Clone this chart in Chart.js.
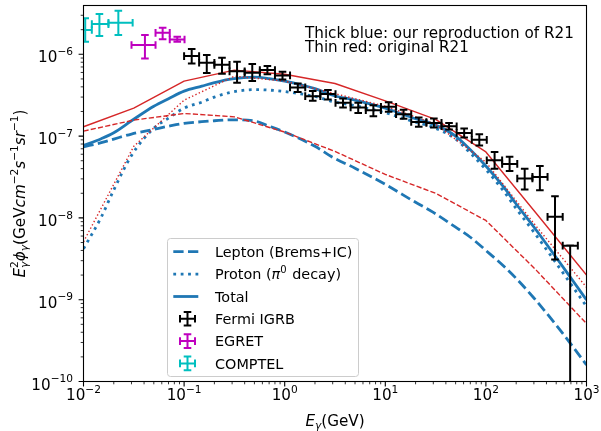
<!DOCTYPE html>
<html>
<head>
<meta charset="utf-8">
<script src="https://cdn.jsdelivr.net/npm/chart.js@4.4.1/dist/chart.umd.min.js"></script>
<style>
  html, body { margin: 0; padding: 0; background: #fff; }
  #box { width: 601px; height: 431px; }
</style>
</head>
<body>
<div id="box"><canvas id="chart" width="601" height="431"></canvas></div>
<script>
// our reproduction (thick blue), E in GeV, E^2 phi in GeV cm^-2 s^-1 sr^-1
const ourE      = [0.01, 0.015, 0.02, 0.03, 0.05, 0.07, 0.1, 0.15, 0.2, 0.3, 0.5, 0.7, 1, 2, 3, 5, 10, 20, 30, 50, 70, 100, 150, 200, 300, 500, 700, 1000];
const ourLepton = [7.4e-8, 8.3e-8, 9.2e-8, 1.06e-7, 1.21e-7, 1.32e-7, 1.43e-7, 1.5e-7, 1.54e-7, 1.58e-7, 1.53e-7, 1.32e-7, 1.12e-7, 7.5e-8, 5.5e-8, 4.05e-8, 2.57e-8, 1.55e-8, 1.17e-8, 7.7e-9, 5.8e-9, 4.0e-9, 2.58e-9, 1.82e-9, 1.05e-9, 4.9e-10, 2.87e-10, 1.59e-10];
const ourProton = [4.2e-9, 1.02e-8, 2.2e-8, 5.8e-8, 1.25e-7, 1.66e-7, 2.2e-7, 2.6e-7, 3.0e-7, 3.45e-7, 3.7e-7, 3.65e-7, 3.5e-7, 3.05e-7, 2.65e-7, 2.35e-7, 1.93e-7, 1.48e-7, 1.28e-7, 9.2e-8, 6.2e-8, 3.9e-8, 2.13e-8, 1.3e-8, 6.7e-9, 2.79e-9, 1.55e-9, 8.3e-10];
const ourTotal  = [7.7e-8, 9.3e-8, 1.1e-7, 1.54e-7, 2.32e-7, 2.87e-7, 3.55e-7, 4.08e-7, 4.5e-7, 5.0e-7, 5.25e-7, 5.05e-7, 4.7e-7, 3.8e-7, 3.16e-7, 2.75e-7, 2.19e-7, 1.63e-7, 1.4e-7, 1.0e-7, 6.8e-8, 4.31e-8, 2.39e-8, 1.48e-8, 7.74e-9, 3.28e-9, 1.84e-9, 9.93e-10];

// original R21 (thin red)
const r21E      = [0.01, 0.0316, 0.1, 0.316, 1, 3.16, 10, 31.6, 100, 316, 1000];
const r21Lepton = [1.15e-7, 1.57e-7, 1.89e-7, 1.72e-7, 1.12e-7, 6.5e-8, 3.4e-8, 2.0e-8, 9.3e-9, 2.3e-9, 5.1e-10];
const r21Proton = [5.1e-9, 7.5e-8, 2.75e-7, 5.4e-7, 4.7e-7, 3.3e-7, 2.32e-7, 1.4e-7, 4.8e-8, 7.9e-9, 1.42e-9];
const r21Total  = [1.3e-7, 2.2e-7, 4.7e-7, 6.4e-7, 5.7e-7, 4.4e-7, 2.7e-7, 1.6e-7, 6.4e-8, 1.14e-8, 2.0e-9];

// Fermi IGRB
const fermiEdges = [0.1, 0.141, 0.2, 0.283, 0.4, 0.566, 0.8, 1.13, 1.6, 2.26, 3.2, 4.52, 6.4, 9.05, 12.8, 18.1, 25.6, 36.2, 51.2, 72.4, 102, 145, 205, 290, 410, 580, 820];
const fermiE    = [0.119, 0.168, 0.238, 0.336, 0.476, 0.673, 0.951, 1.35, 1.9, 2.69, 3.8, 5.38, 7.61, 10.8, 15.2, 21.5, 30.4, 43.0, 60.8, 86.0, 122, 172, 243, 344, 486, 688];
const fermiFlux = [9.5e-7, 7.87e-7, 7.43e-7, 6.19e-7, 5.97e-7, 6.41e-7, 5.52e-7, 3.94e-7, 3.08e-7, 3.26e-7, 2.55e-7, 2.24e-7, 2.07e-7, 2.28e-7, 1.85e-7, 1.49e-7, 1.45e-7, 1.32e-7, 1.09e-7, 9.0e-8, 5.07e-8, 4.57e-8, 3.03e-8, 3.17e-8, 1.03e-8, 4.58e-9];
const fermiUp   = [1.16e-6, 9.8e-7, 9.1e-7, 8.1e-7, 7.6e-7, 7.17e-7, 6.1e-7, 4.4e-7, 3.57e-7, 3.65e-7, 2.88e-7, 2.55e-7, 2.39e-7, 2.6e-7, 2.1e-7, 1.69e-7, 1.64e-7, 1.45e-7, 1.24e-7, 1.05e-7, 6.4e-8, 5.6e-8, 4.0e-8, 4.3e-8, 1.84e-8, 4.6e-9];
const fermiDown = [7.7e-7, 5.9e-7, 5.8e-7, 4.5e-7, 4.7e-7, 5.72e-7, 4.93e-7, 3.47e-7, 2.7e-7, 2.8e-7, 2.24e-7, 1.92e-7, 1.75e-7, 1.98e-7, 1.63e-7, 1.3e-7, 1.27e-7, 1.2e-7, 9.6e-8, 7.7e-8, 4.0e-8, 3.75e-8, 2.22e-8, 2.18e-8, 3.1e-9, 1e-12];

// EGRET
const egretEdges = [0.03, 0.052, 0.072, 0.101];
const egretE     = [0.0408, 0.0612, 0.0855];
const egretFlux  = [1.3e-6, 1.83e-6, 1.52e-6];
const egretUp    = [1.72e-6, 2.11e-6, 1.64e-6];
const egretDown  = [8.9e-7, 1.53e-6, 1.42e-6];

// COMPTEL
const comptelEdges = [0.0089, 0.0121, 0.0177, 0.0308];
const comptelE     = [0.0104, 0.0144, 0.0222];
const comptelFlux  = [1.98e-6, 2.34e-6, 2.43e-6];
const comptelUp    = [2.75e-6, 3.1e-6, 3.4e-6];
const comptelDown  = [1.42e-6, 1.67e-6, 1.72e-6];

const xTickValues = [1e-2, 1e-1, 1, 10, 100, 1000];
const xTickExps   = ['−2', '−1', '0', '1', '2', '3'];
const yTickValues = [1e-10, 1e-9, 1e-8, 1e-7, 1e-6];
const yTickExps   = ['−10', '−9', '−8', '−7', '−6'];

const BLUE = '#1f77b4';
const RED = '#d62728';
const FONT = '"DejaVu Sans", sans-serif';

function curve(es, vs) {
    return es.map((e, i) => ({ x: e, y: vs[i] }));
}

function errPoints(edges, es, vs, up, down) {
    return es.map((e, i) => ({ x: e, y: vs[i], xMin: edges[i], xMax: edges[i + 1], yMin: down[i], yMax: up[i] }));
}

// mathtext-ish text: parts = [{t, size, it, dy, hold}]
function drawRich(ctx, parts, x, y, align) {
    const placed = [];
    let cx = 0, held = 0;
    parts.forEach(p => {
        ctx.font = (p.it ? 'italic ' : '') + p.size + 'px ' + FONT;
        const w = ctx.measureText(p.t).width;
        placed.push({ p: p, x: cx });
        if (p.hold) {
            held = w;
        } else {
            cx += Math.max(w, held) + (p.gap || 0);
            held = 0;
        }
    });
    let x0 = x;
    if (align === 'center') x0 = x - cx / 2;
    if (align === 'right') x0 = x - cx;
    placed.forEach(q => {
        ctx.font = (q.p.it ? 'italic ' : '') + q.p.size + 'px ' + FONT;
        ctx.fillText(q.p.t, x0 + q.x, y + (q.p.dy || 0));
    });
}

function drawCross(ctx, x0, x1, px, y0, y1, py, cap) {
    ctx.beginPath();
    ctx.moveTo(x0, py); ctx.lineTo(x1, py);
    ctx.moveTo(px, y0); ctx.lineTo(px, y1);
    ctx.moveTo(x0, py - cap); ctx.lineTo(x0, py + cap);
    ctx.moveTo(x1, py - cap); ctx.lineTo(x1, py + cap);
    ctx.moveTo(px - cap, y0); ctx.lineTo(px + cap, y0);
    ctx.moveTo(px - cap, y1); ctx.lineTo(px + cap, y1);
    ctx.stroke();
}

const errorBars = {
    id: 'errorBars',
    afterDatasetsDraw(chart) {
        const { ctx, chartArea: a } = chart;
        const xs = chart.scales.x, ys = chart.scales.y;
        ctx.save();
        ctx.beginPath();
        ctx.rect(a.left, a.top, a.right - a.left, a.bottom - a.top);
        ctx.clip();
        chart.data.datasets.forEach(ds => {
            if (!ds.errorBars) return;
            ctx.strokeStyle = ds.borderColor;
            ctx.lineWidth = 2;
            ctx.lineCap = 'butt';
            ds.data.forEach(p => {
                drawCross(ctx,
                    xs.getPixelForValue(p.xMin), xs.getPixelForValue(p.xMax), xs.getPixelForValue(p.x),
                    ys.getPixelForValue(p.yMin), ys.getPixelForValue(p.yMax), ys.getPixelForValue(p.y), 3.8);
            });
        });
        ctx.restore();
    }
};

const axesDecor = {
    id: 'axesDecor',
    afterDraw(chart) {
        const { ctx, chartArea: a } = chart;
        const xs = chart.scales.x, ys = chart.scales.y;
        ctx.save();
        ctx.fillStyle = '#000';
        ctx.strokeStyle = '#000';

        // minor ticks
        ctx.lineWidth = 0.8;
        ctx.beginPath();
        for (let n = -2; n < 3; n++) {
            for (let m = 2; m < 10; m++) {
                const px = xs.getPixelForValue(m * Math.pow(10, n));
                ctx.moveTo(px, a.bottom); ctx.lineTo(px, a.bottom + 2.8);
            }
        }
        for (let n = -10; n < -5; n++) {
            for (let m = 2; m < 10; m++) {
                const v = m * Math.pow(10, n);
                if (v > ys.max) continue;
                const py = ys.getPixelForValue(v);
                ctx.moveTo(a.left, py); ctx.lineTo(a.left - 2.8, py);
            }
        }
        ctx.stroke();

        // major ticks + labels
        ctx.lineWidth = 1.1;
        ctx.beginPath();
        xTickValues.forEach(v => {
            const px = xs.getPixelForValue(v);
            ctx.moveTo(px, a.bottom); ctx.lineTo(px, a.bottom + 4.9);
        });
        yTickValues.forEach(v => {
            const py = ys.getPixelForValue(v);
            ctx.moveTo(a.left, py); ctx.lineTo(a.left - 4.9, py);
        });
        ctx.stroke();

        xTickValues.forEach((v, i) => {
            drawRich(ctx, [{ t: '10', size: 15.2 }, { t: xTickExps[i], size: 10.6, dy: -7 }],
                xs.getPixelForValue(v), 400.4, 'center');
        });
        yTickValues.forEach((v, i) => {
            const py = ys.getPixelForValue(v);
            drawRich(ctx, [{ t: '10', size: 15.2 }, { t: yTickExps[i], size: 10.6, dy: -7.3 }],
                a.left - 10.5, py + 8, 'right');
        });

        // frame
        ctx.lineWidth = 1.1;
        ctx.strokeRect(a.left, a.top, a.right - a.left, a.bottom - a.top);

        // axis labels
        drawRich(ctx, [
            { t: 'E', size: 15.2, it: true },
            { t: 'γ', size: 10.6, it: true, dy: 3 },
            { t: '(GeV)', size: 15.2 }
        ], (a.left + a.right) / 2, 425.5, 'center');

        ctx.save();
        ctx.translate(25.3, (a.top + a.bottom) / 2);
        ctx.rotate(-Math.PI / 2);
        drawRich(ctx, [
            { t: 'E', size: 15.2, it: true },
            { t: 'γ', size: 10.6, it: true, dy: 3, hold: true },
            { t: '2', size: 10.6, dy: -7 },
            { t: 'ϕ', size: 15.2, it: true },
            { t: 'γ', size: 10.6, it: true, dy: 3 },
            { t: '(GeV', size: 15.2 },
            { t: 'cm', size: 15.2, it: true },
            { t: '−2', size: 10.6, dy: -7 },
            { t: 's', size: 15.2, it: true },
            { t: '−1', size: 10.6, dy: -7 },
            { t: 'sr', size: 15.2, it: true },
            { t: '−1', size: 10.6, dy: -7 },
            { t: ')', size: 15.2 }
        ], 0, 0, 'center');
        ctx.restore();

        // note in the corner
        ctx.font = '15.2px ' + FONT;
        ctx.textAlign = 'left';
        ctx.fillText('Thick blue: our reproduction of R21', 305, 37.5);
        ctx.fillText('Thin red: original R21', 305, 52);

        // legend
        const lx = 167.5, ly = 238.5, lw = 191, lh = 138;
        ctx.beginPath();
        ctx.roundRect(lx, ly, lw, lh, 3);
        ctx.fillStyle = 'rgba(255,255,255,0.8)';
        ctx.fill();
        ctx.strokeStyle = '#cccccc';
        ctx.lineWidth = 1;
        ctx.stroke();

        const rows = [251.7, 274.2, 296.5, 318.8, 341.1, 363.4];
        const items = chart.data.datasets.filter(ds => ds.legendRow !== undefined);
        items.forEach(ds => {
            const cy = rows[ds.legendRow];
            ctx.strokeStyle = ds.borderColor;
            if (ds.errorBars) {
                ctx.lineWidth = 2;
                ctx.setLineDash([]);
                drawCross(ctx, 180, 195, 187.5, cy - 6.8, cy + 6.8, cy, 3.8);
            } else {
                ctx.lineWidth = ds.borderWidth;
                ctx.lineCap = 'butt';
                ctx.setLineDash(ds.borderDash || []);
                ctx.beginPath();
                ctx.moveTo(173.3, cy); ctx.lineTo(198.3, cy);
                ctx.stroke();
                ctx.setLineDash([]);
            }
            ctx.fillStyle = '#000';
            drawRich(ctx, ds.legendText, 215, cy + 5.2, 'left');
        });
        ctx.restore();
    }
};

const ctx = document.getElementById('chart').getContext('2d');

new Chart(ctx, {
    type: 'line',
    data: {
        datasets: [
            { label: 'R21 lepton', data: curve(r21E, r21Lepton), borderColor: RED, borderWidth: 1.4, borderDash: [5.2, 2.2] },
            { label: 'R21 proton', data: curve(r21E, r21Proton), borderColor: RED, borderWidth: 1.4, borderDash: [1.4, 2.3] },
            { label: 'R21 total', data: curve(r21E, r21Total), borderColor: RED, borderWidth: 1.4 },
            {
                label: 'Lepton (Brems+IC)', data: curve(ourE, ourLepton), borderColor: BLUE, borderWidth: 2.8,
                borderDash: [10.3, 4.4], cubicInterpolationMode: 'monotone', legendRow: 0,
                legendText: [{ t: 'Lepton (Brems+IC)', size: 14.4 }]
            },
            {
                label: 'Proton (pi0 decay)', data: curve(ourE, ourProton), borderColor: BLUE, borderWidth: 2.8,
                borderDash: [2.8, 4.6], cubicInterpolationMode: 'monotone', legendRow: 1,
                legendText: [{ t: 'Proton (', size: 14.4 }, { t: 'π', size: 14.4, it: true },
                    { t: '0', size: 10, dy: -6.5, gap: 1 }, { t: ' decay)', size: 14.4 }]
            },
            {
                label: 'Total', data: curve(ourE, ourTotal), borderColor: BLUE, borderWidth: 2.8,
                cubicInterpolationMode: 'monotone', legendRow: 2,
                legendText: [{ t: 'Total', size: 14.4 }]
            },
            {
                type: 'scatter', label: 'Fermi IGRB', errorBars: true, borderColor: '#000000', pointRadius: 0,
                data: errPoints(fermiEdges, fermiE, fermiFlux, fermiUp, fermiDown), legendRow: 3,
                legendText: [{ t: 'Fermi IGRB', size: 14.4 }]
            },
            {
                type: 'scatter', label: 'EGRET', errorBars: true, borderColor: '#bf00bf', pointRadius: 0,
                data: errPoints(egretEdges, egretE, egretFlux, egretUp, egretDown), legendRow: 4,
                legendText: [{ t: 'EGRET', size: 14.4 }]
            },
            {
                type: 'scatter', label: 'COMPTEL', errorBars: true, borderColor: '#00bfbf', pointRadius: 0,
                data: errPoints(comptelEdges, comptelE, comptelFlux, comptelUp, comptelDown), legendRow: 5,
                legendText: [{ t: 'COMPTEL', size: 14.4 }]
            }
        ]
    },
    options: {
        responsive: false,
        animation: false,
        devicePixelRatio: 1,
        layout: { padding: { top: 5.5, right: 14.5, left: 0, bottom: 0 } },
        elements: {
            point: { radius: 0 },
            line: { fill: false, tension: 0, borderCapStyle: 'butt', borderJoinStyle: 'round' }
        },
        scales: {
            x: {
                type: 'logarithmic', min: 0.01, max: 1000,
                ticks: { display: false }, grid: { display: false }, border: { display: false },
                afterFit: s => { s.height = 49.5; }
            },
            y: {
                type: 'logarithmic', min: 1e-10, max: 3.95e-6,
                ticks: { display: false }, grid: { display: false }, border: { display: false },
                afterFit: s => { s.width = 83.5; }
            }
        },
        plugins: {
            legend: { display: false },
            tooltip: { enabled: false }
        }
    },
    plugins: [errorBars, axesDecor]
});
</script>
</body>
</html>
